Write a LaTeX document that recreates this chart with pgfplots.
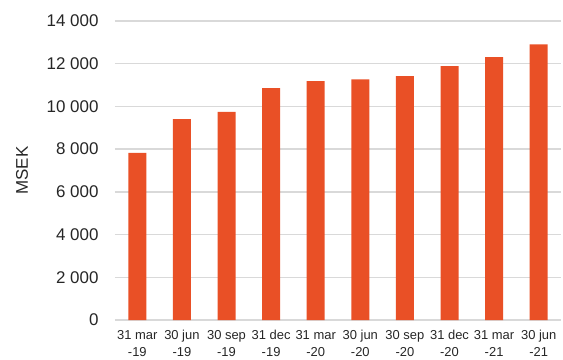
\documentclass[border=0pt]{standalone}
\usepackage{pgfplots}
\pgfplotsset{compat=1.18}
\usepackage{fontspec}
\setmainfont{Liberation Sans}
\definecolor{barc}{HTML}{E95026}
\definecolor{gridc}{HTML}{D9D9D9}
\definecolor{txt}{HTML}{262626}
\begin{document}
\begin{tikzpicture}
\useasboundingbox (-115bp,-40bp) rectangle (448bp,320bp);
\begin{axis}[
  at={(0,0)}, anchor=south west,
  scale only axis,
  width=446bp, height=299bp,
  xmin=-0.5, xmax=9.5,
  ymin=0, ymax=14000,
  ytick={0,2000,...,14000},
  xtick={0,...,9},
  xticklabels={{31 mar\\-19},{30 jun\\-19},{30 sep\\-19},{31 dec\\-19},{31 mar\\-20},{30 jun\\-20},{30 sep\\-20},{31 dec\\-20},{31 mar\\-21},{30 jun\\-21}},
  axis line style={draw=none},
  major tick length=0pt,
  ymajorgrids,
  grid style={gridc, line width=1.3bp},
  /pgf/number format/assume math mode=true,
  /pgf/number format/1000 sep={\ },
  scaled y ticks=false,
  yticklabel style={font=\fontsize{17}{20}\selectfont, text=txt, xshift=-13bp},
  xticklabel style={font=\fontsize{13}{17}\selectfont, text=txt, align=center, yshift=-7bp},
  ylabel={MSEK},
  ylabel style={font=\fontsize{17}{20}\selectfont, text=txt, at={(axis description cs:-0.2085,0.5)}, anchor=center},
  clip=false,
]
\addplot[ybar, bar width=18bp, fill=barc, draw=none] coordinates {
(0,7820) (1,9410) (2,9750) (3,10860) (4,11190) (5,11270) (6,11420) (7,11890) (8,12310) (9,12910)
};
\end{axis}
\end{tikzpicture}
\end{document}
